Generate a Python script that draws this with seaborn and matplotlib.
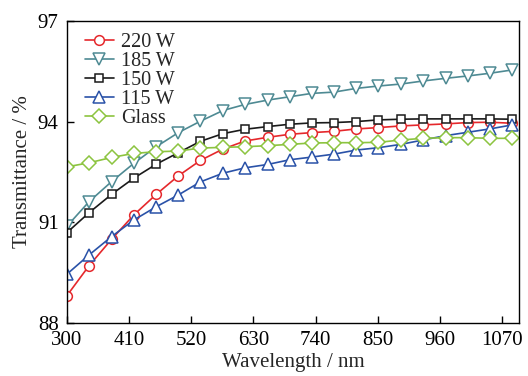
import matplotlib
matplotlib.use("Agg")
import matplotlib.pyplot as plt
import seaborn as sns
import pandas as pd

wavelength = [300, 339, 379, 418, 458, 497, 536, 576, 615, 655, 694,
              733, 773, 812, 851, 891, 930, 970, 1009, 1048, 1088]
t_220 = [88.81, 89.70, 90.49, 91.21, 91.83, 92.38, 92.84, 93.18, 93.42, 93.53, 93.62,
         93.67, 93.71, 93.78, 93.82, 93.87, 93.90, 93.93, 93.97, 93.98, 93.95]
t_185 = [90.88, 91.61, 92.21, 92.75, 93.25, 93.67, 94.01, 94.33, 94.51, 94.64, 94.74,
         94.84, 94.88, 94.99, 95.06, 95.12, 95.21, 95.29, 95.36, 95.44, 95.54]
t_150 = [90.69, 91.28, 91.83, 92.31, 92.73, 93.07, 93.41, 93.64, 93.77, 93.85, 93.92,
         93.96, 93.97, 94.00, 94.05, 94.07, 94.08, 94.08, 94.08, 94.08, 94.07]
t_115 = [89.45, 90.02, 90.57, 91.06, 91.46, 91.81, 92.20, 92.46, 92.62, 92.72, 92.86,
         92.94, 93.03, 93.15, 93.22, 93.32, 93.45, 93.58, 93.68, 93.78, 93.90]
t_glass = [92.65, 92.77, 92.93, 93.05, 93.10, 93.12, 93.21, 93.23, 93.25, 93.28, 93.32,
           93.36, 93.37, 93.37, 93.38, 93.45, 93.50, 93.52, 93.52, 93.50, 93.50]

labels = ["220 W", "185 W", "150 W", "115 W", "Glass"]
series = [t_220, t_185, t_150, t_115, t_glass]
colors = ["#E5282C", "#4E8A93", "#1A1A1A", "#2A52A8", "#8CC43F"]
markers = ["o", "v", "s", "^", "D"]
msizes = [7, 8.5, 6, 8.5, 7.5]

x_ticks = [300, 410, 520, 630, 740, 850, 960, 1070]
y_ticks = [88, 91, 94, 97]

sns.set_style("ticks")
plt.rcParams["font.family"] = ["Liberation Serif", "DejaVu Serif"]

fig = plt.figure(figsize=(5.28, 3.76), dpi=100)
ax = fig.add_axes([67 / 528, 1 - 322.7 / 376, (519 - 67) / 528, (322.7 - 21) / 376])

for lab, vals, c, m, ms in zip(labels, series, colors, markers, msizes):
    df = pd.DataFrame({"Wavelength": wavelength, "T": vals})
    sns.lineplot(data=df, x="Wavelength", y="T", ax=ax, color=c, marker=m,
                 markersize=ms, markerfacecolor="white", markeredgecolor=c,
                 markeredgewidth=1.1, linewidth=1.2, label=lab)

ax.set_xlim(300, 1100)
ax.set_ylim(88, 97)
ax.set_xticks(x_ticks)
ax.set_yticks(y_ticks)
ax.tick_params(direction="in", length=5, width=1, labelsize=15, pad=6,
               top=False, right=False, colors="black")
for s in ax.spines.values():
    s.set_visible(True)
    s.set_color("black")
    s.set_linewidth(1.0)
ax.set_xlabel("Wavelength / nm", fontsize=15, labelpad=2)
ax.set_ylabel("Transmittance / %", fontsize=15, labelpad=4)

leg = ax.legend(loc="upper left", bbox_to_anchor=(0.008, 1.008), frameon=False,
                fontsize=14.5, handlelength=1.45, handletextpad=0.35,
                labelspacing=0.0, borderaxespad=0.3)

fig.savefig("out.png", dpi=100)
